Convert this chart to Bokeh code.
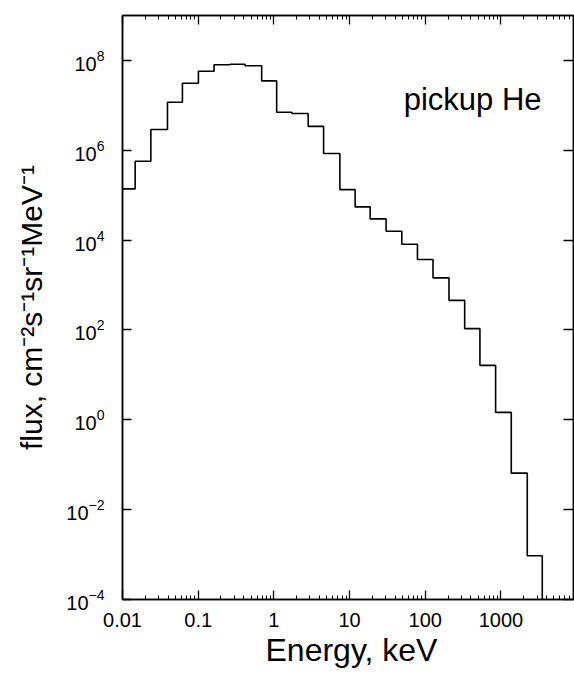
from bokeh.plotting import figure
from bokeh.models import (FixedTicker, LogAxis, Title, Label, CustomJSTickFormatter,
                          Range1d, ColumnDataSource, LogTickFormatter)
from bokeh.embed import file_html
from bokeh.resources import INLINE

# ---- data ----
bin_edges_kev = [0.0091, 0.0147, 0.0237, 0.0393, 0.0619, 0.1007, 0.162, 0.264,
                 0.416, 0.690, 1.089, 1.73, 2.84, 4.54, 7.45, 11.85, 18.7, 30.4,
                 49.0, 78.9, 126.7, 206.0, 332.0, 528.0, 851.0, 1371.0, 2230.0, 3518.0]
flux = [1.38e5, 5.7e5, 2.9e6, 1.17e7, 3.1e7, 5.75e7, 8.0e7, 8.2e7, 7.6e7, 3.5e7,
        7.0e6, 6.6e6, 3.4e6, 8.45e5, 1.33e5, 5.5e4, 2.97e4, 1.57e4, 8.1e3, 3.7e3,
        1.44e3, 456.0, 107.0, 16.3, 1.46, 0.065, 9.4e-4]
below_range_flux = 1e-6          # histogram closes down to the baseline
x_major_ticks = [0.01, 0.1, 1, 10, 100, 1000]
y_major_ticks = [1e-4, 1e-2, 1, 1e2, 1e4, 1e6, 1e8]
x_limits = (0.01, 9100)
y_limits = (1e-4, 1e9)
species_label = "pickup He"
x_title = "Energy, keV"
y_title = "flux, cm\u207b\u00b2s\u207b\u00b9sr\u207b\u00b9MeV\u207b\u00b9"

FONT = "Liberation Sans"

x_minor_ticks = [m * d for d in x_major_ticks + [10000] for m in range(2, 10)]

step_y = flux + [below_range_flux]
src = ColumnDataSource(dict(e=bin_edges_kev, f=step_y))

p = figure(width=574, height=677, x_axis_type="log", y_axis_type="log",
           x_range=Range1d(*x_limits), y_range=Range1d(*y_limits),
           output_backend="svg", toolbar_location=None,
           min_border_left=122, min_border_right=1, min_border_top=15,
           min_border_bottom=78)
p.xgrid.visible = False
p.ygrid.visible = False
p.outline_line_color = "black"
p.outline_line_width = 1.5
p.background_fill_color = "white"
p.border_fill_color = "white"

p.step(x="e", y="f", source=src, mode="after", line_color="black", line_width=1.6)

xt = FixedTicker(ticks=x_major_ticks, minor_ticks=x_minor_ticks)
yt = FixedTicker(ticks=y_major_ticks, minor_ticks=[])

def style(ax):
    ax.axis_line_color = "black"
    ax.axis_line_width = 1.5
    ax.major_tick_in = 9
    ax.major_tick_out = 0
    ax.minor_tick_in = 4
    ax.minor_tick_out = 0
    ax.major_tick_line_width = 1.3
    ax.minor_tick_line_width = 1
    ax.major_tick_line_color = "black"
    ax.minor_tick_line_color = "black"
    ax.major_label_text_font = FONT
    ax.major_label_text_font_size = "20px"
    ax.major_label_text_color = "black"

xa = p.xaxis[0]
xa.ticker = xt
xa.formatter = CustomJSTickFormatter(code="return String(tick);")
style(xa)
xa.major_label_standoff = 13

ya = p.yaxis[0]
ya.ticker = yt
ya.formatter = LogTickFormatter()
style(ya)
ya.major_label_standoff = 18

blank = CustomJSTickFormatter(code="return '';")
top = LogAxis(ticker=FixedTicker(ticks=x_major_ticks, minor_ticks=x_minor_ticks),
              formatter=blank)
style(top)
top.major_label_text_font_size = "0px"
top.major_label_standoff = 0
p.add_layout(top, "above")

right = LogAxis(ticker=FixedTicker(ticks=y_major_ticks, minor_ticks=[]), formatter=blank)
style(right)
right.major_tick_in = 10
right.major_label_text_font_size = "0px"
right.major_label_standoff = 0
p.add_layout(right, "right")

# invisible spacer between the x tick labels and the x title
spacer = LogAxis(ticker=FixedTicker(ticks=x_major_ticks, minor_ticks=[]), formatter=blank,
                 axis_line_color=None, major_tick_line_color=None,
                 minor_tick_line_color=None, major_tick_in=0, major_tick_out=0,
                 minor_tick_in=0, minor_tick_out=0,
                 major_label_text_font_size="0px", major_label_standoff=5)
p.add_layout(spacer, "below")

p.add_layout(Label(x=52, y=1.35e7, text=species_label, text_font=FONT,
                   text_font_size="31px", text_color="black",
                   text_baseline="alphabetic", text_align="left"))

p.add_layout(Title(text=x_title, align="left", offset=143, standoff=0,
                   vertical_align="bottom",
                   text_font=FONT, text_font_size="32px", text_font_style="normal",
                   text_color="black"), "below")

p.add_layout(Title(text=y_title, align="center", standoff=28, vertical_align="top",
                   text_font=FONT, text_font_size="30px", text_font_style="normal",
                   text_color="black"), "left")

open("out.html", "w").write(file_html(p, INLINE))
